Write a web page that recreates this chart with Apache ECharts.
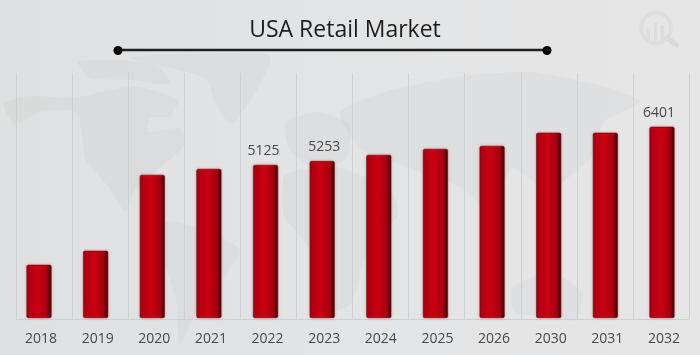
<!DOCTYPE html>
<html>
<head>
<meta charset="utf-8">
<title>USA Retail Market</title>
<script src="https://cdn.jsdelivr.net/npm/echarts@6/dist/echarts.min.js"></script>
<style>
html,body{margin:0;padding:0;background:#e3e4e5;}
#main{width:700px;height:355px;filter:blur(0.35px);}
</style>
</head>
<body>
<div id="main"></div>
<script>
const years = ['2018','2019','2020','2021','2022','2023','2024','2025','2026','2030','2031','2032'];
const market = [1780,2250,4790,4990,5125,5253,5460,5660,5760,6200,6200,6401];
const labelledYears = ['2022','2023','2032'];
const labelShift = [-2,2,-3];

// rough continents behind the chart
const MAP_FILL = 'rgba(186,190,193,0.16)';
const continents = [
    [[4,104],[30,96],[75,98],[100,92],[135,86],[178,100],[170,116],[150,118],[148,132],[180,128],[184,146],[160,168],[135,190],[126,212],[108,186],[86,160],[76,112],[40,112],[14,124]],
    [[78,62],[120,60],[158,66],[170,84],[130,80],[90,78]],
    [[130,58],[190,54],[270,56],[258,88],[232,124],[216,106],[205,78]],
    [[166,222],[200,228],[240,250],[222,280],[196,312],[180,345],[176,300],[162,250]],
    [[285,122],[320,112],[350,126],[345,160],[310,165],[290,150]],
    [[285,175],[340,168],[392,192],[398,215],[368,250],[350,305],[325,310],[310,250],[284,215]],
    [[340,112],[385,92],[450,78],[530,72],[610,88],[640,102],[604,122],[590,158],[548,190],[512,168],[490,212],[462,188],[410,168],[360,148]],
    [[512,288],[550,272],[582,292],[576,320],[542,316],[514,312]]
];
const mapElements = continents.map(function(points){
    return {
        type:'polygon',
        z:-2,
        silent:true,
        shape:{points:points,smooth:0.2},
        style:{fill:MAP_FILL}
    };
});

const LOGO = '#dcddde';
const logoElements = [
    {type:'circle',z:-1,shape:{cx:656,cy:28,r:15},style:{fill:'none',stroke:LOGO,lineWidth:3.5}},
    {type:'line',z:-1,shape:{x1:667,y1:38,x2:677,y2:45},style:{stroke:'#ded8d9',lineWidth:5,lineCap:'round'}},
    {type:'rect',z:-1,shape:{x:647,y:28,width:3,height:13},style:{fill:LOGO}},
    {type:'rect',z:-1,shape:{x:654,y:22,width:3,height:19},style:{fill:LOGO}},
    {type:'rect',z:-1,shape:{x:661,y:25,width:3,height:16},style:{fill:LOGO}}
];

const titleElements = [
    {type:'line',z:5,shape:{x1:118,y1:50,x2:547,y2:50},style:{stroke:'#1f1f1f',lineWidth:2.5}},
    {type:'circle',z:5,shape:{cx:118,cy:50.5,r:4.5},style:{fill:'#050505'}},
    {type:'circle',z:5,shape:{cx:547,cy:50.5,r:4.5},style:{fill:'#050505'}}
];

const barColor = {
    type:'linear',x:0,y:0,x2:1,y2:0,
    colorStops:[
        {offset:0,color:'#8a0612'},
        {offset:0.12,color:'#b20012'},
        {offset:0.45,color:'#c90011'},
        {offset:0.82,color:'#a40010'},
        {offset:0.94,color:'#4a0208'},
        {offset:1,color:'#220205'}
    ]
};

const barData = market.map(function(v,i){
    const at = labelledYears.indexOf(years[i]);
    if(at===-1) return v;
    return {value:v,label:{show:true,offset:[labelShift[at],0]}};
});

const chart = echarts.init(document.getElementById('main'),null,{renderer:'canvas'});
chart.setOption({
    animation:false,
    backgroundColor:{
        type:'linear',x:0,y:0,x2:1,y2:0,
        colorStops:[{offset:0,color:'#dfe0e1'},{offset:0.5,color:'#e3e4e5'},{offset:1,color:'#e6e6e7'}]
    },
    title:{
        text:'USA Retail Market',
        left:340,
        top:14,
        textAlign:'center',
        textStyle:{fontFamily:'Open Sans',fontSize:23,fontWeight:500,color:'#1c1c1c'}
    },
    graphic:{elements:mapElements.concat(logoElements,titleElements)},
    grid:[
        {left:10.7,right:9.7,top:73,bottom:37},
        {left:16,right:11,top:73,bottom:36}
    ],
    xAxis:[
        {
            type:'category',
            gridIndex:0,
            data:years,
            axisLine:{show:false},
            axisTick:{show:false},
            axisLabel:{
                margin:14,
                padding:[0,0,0,4],
                fontFamily:'Open Sans',
                fontSize:14,
                fontWeight:500,
                color:'#484848'
            }
        },
        {
            // gridlines sit slightly off the bars in the source, so they get their own axis
            type:'category',
            gridIndex:1,
            data:years,
            axisLine:{show:true,lineStyle:{color:'#cdd0d1'}},
            axisTick:{show:false},
            axisLabel:{show:false},
            splitLine:{show:true,lineStyle:{color:'#cdd0d1',width:1}}
        }
    ],
    yAxis:[
        {type:'value',gridIndex:0,min:0,max:8200,show:false},
        {type:'value',gridIndex:1,min:0,max:8200,show:false}
    ],
    series:[{
        type:'bar',
        xAxisIndex:0,
        yAxisIndex:0,
        barWidth:25,
        data:barData,
        itemStyle:{
            color:barColor,
            borderColor:'#5a0a10',
            borderWidth:0.6,
            borderRadius:1.5,
            shadowColor:'rgba(255,70,70,0.45)',
            shadowBlur:3
        },
        label:{
            show:false,
            position:'top',
            distance:7,
            fontFamily:'Open Sans',
            fontSize:14,
            fontWeight:500,
            color:'#484848'
        }
    }]
});
</script>
</body>
</html>
